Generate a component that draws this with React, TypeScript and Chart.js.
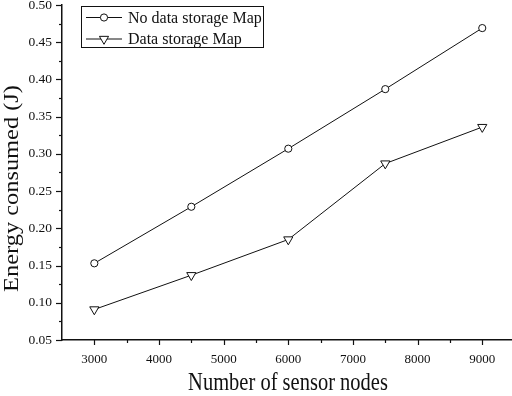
import React, { useEffect, useRef } from "react";
import { Chart, registerables } from "chart.js";

Chart.register(...registerables);

const nodeCounts = [3000, 4500, 6000, 7500, 9000];
const noStorageEnergy = [0.153, 0.229, 0.307, 0.387, 0.469];
const storageEnergy = [0.091, 0.137, 0.185, 0.287, 0.336];
const seriesLabels = ["No data storage Map", "Data storage Map"];
const xTickLabels = [3000, 4000, 5000, 6000, 7000, 8000, 9000];
const yTickLabels = [0.05, 0.1, 0.15, 0.2, 0.25, 0.3, 0.35, 0.4, 0.45, 0.5];
const xTitle = "Number of sensor nodes";
const yTitle = "Energy consumed (J)";
const xRange = [2500, 9460];
const yRange = [0.05, 0.5];

const FONT = "'Liberation Serif', 'Times New Roman', serif";
const INK = "#111";

function drawMarker(ctx: CanvasRenderingContext2D, style: string, x: number, y: number, r: number) {
  ctx.beginPath();
  if (style === "circle") {
    ctx.arc(x, y, r, 0, Math.PI * 2);
  } else {
    let rad = Math.PI;
    const step = (2 * Math.PI) / 3;
    ctx.moveTo(x + Math.sin(rad) * r, y - Math.cos(rad) * r);
    rad += step;
    ctx.lineTo(x + Math.sin(rad) * r, y - Math.cos(rad) * r);
    rad += step;
    ctx.lineTo(x + Math.sin(rad) * r, y - Math.cos(rad) * r);
    ctx.closePath();
  }
  ctx.fillStyle = "#fff";
  ctx.fill();
  ctx.stroke();
}

const tickMarksPlugin = {
  id: "tickMarks",
  afterDraw(chart: any) {
    const { ctx, chartArea } = chart;
    const xs = chart.scales.x;
    const ys = chart.scales.y;
    ctx.save();
    ctx.strokeStyle = INK;
    ctx.lineWidth = 1.2;
    for (let v = 2500; v <= 9500; v += 500) {
      const px = xs.getPixelForValue(v);
      if (px < chartArea.left + 1 || px > chartArea.right + 0.5) continue;
      const len = v % 1000 === 0 ? 5 : 3;
      ctx.beginPath();
      ctx.moveTo(Math.round(px) + 0.5, chartArea.bottom);
      ctx.lineTo(Math.round(px) + 0.5, chartArea.bottom + len);
      ctx.stroke();
    }
    for (let i = 0; i <= 18; i++) {
      const v = 0.05 + i * 0.025;
      const py = ys.getPixelForValue(v);
      const len = i % 2 === 0 ? 6 : 3;
      ctx.beginPath();
      ctx.moveTo(chartArea.left, Math.round(py) + 0.5);
      ctx.lineTo(chartArea.left - len, Math.round(py) + 0.5);
      ctx.stroke();
    }
    ctx.restore();
  },
};

const titlesPlugin = {
  id: "axisTitles",
  afterDraw(chart: any) {
    const { ctx } = chart;
    ctx.save();
    ctx.fillStyle = INK;
    ctx.font = `20.5px ${FONT}`;
    ctx.textAlign = "center";
    ctx.textBaseline = "alphabetic";
    ctx.save();
    ctx.translate(288, 390);
    ctx.scale(1, 1.19);
    ctx.fillText(xTitle, 0, 0);
    ctx.restore();
    ctx.save();
    ctx.translate(18, 188.5);
    ctx.rotate(-Math.PI / 2);
    ctx.scale(1.19, 1);
    ctx.fillText(yTitle, 0, 0);
    ctx.restore();
    ctx.restore();
  },
};

const legendPlugin = {
  id: "boxLegend",
  afterDraw(chart: any) {
    const { ctx } = chart;
    ctx.save();
    ctx.strokeStyle = INK;
    ctx.lineWidth = 1;
    ctx.strokeRect(81.5, 6.5, 182, 41);
    const rows = [17.5, 39];
    chart.data.datasets.forEach((ds: any, i: number) => {
      const y = rows[i];
      ctx.strokeStyle = INK;
      ctx.lineWidth = 1;
      ctx.beginPath();
      ctx.moveTo(86, y);
      ctx.lineTo(122, y);
      ctx.stroke();
      drawMarker(ctx, ds.pointStyle, 104, y, ds.pointRadius);
      ctx.fillStyle = INK;
      ctx.font = `16px ${FONT}`;
      ctx.textAlign = "left";
      ctx.textBaseline = "middle";
      ctx.fillText(ds.label, 128, y + 1);
    });
    ctx.restore();
  },
};

export default function App() {
  const ref = useRef<HTMLCanvasElement | null>(null);
  useEffect(() => {
    if (!ref.current) return;
    const chart = new Chart(ref.current, {
      type: "line",
      data: {
        datasets: [
          {
            label: seriesLabels[0],
            data: nodeCounts.map((x, i) => ({ x, y: noStorageEnergy[i] })),
            borderColor: INK,
            borderWidth: 1,
            pointStyle: "circle",
            pointRadius: 3.6,
            pointBorderWidth: 1,
            pointBackgroundColor: "#fff",
            pointBorderColor: INK,
            tension: 0,
          },
          {
            label: seriesLabels[1],
            data: nodeCounts.map((x, i) => ({ x, y: storageEnergy[i] })),
            borderColor: INK,
            borderWidth: 1,
            pointStyle: "triangle",
            rotation: 180,
            pointRadius: 5.3,
            pointBorderWidth: 1,
            pointBackgroundColor: "#fff",
            pointBorderColor: INK,
            tension: 0,
          } as any,
        ],
      },
      options: {
        responsive: false,
        animation: false,
        layout: { autoPadding: false, padding: { top: 5, right: 0, left: 0, bottom: 0 } },
        plugins: { legend: { display: false }, tooltip: { enabled: false } },
        scales: {
          x: {
            type: "linear",
            min: xRange[0],
            max: xRange[1],
            grid: { display: false, drawTicks: false },
            border: { display: true, color: INK, width: 1.5 },
            afterBuildTicks: (s: any) => {
              s.ticks = xTickLabels.map((v) => ({ value: v }));
            },
            ticks: {
              autoSkip: false,
              maxRotation: 0,
              padding: 12,
              color: INK,
              font: { family: FONT, size: 13 },
              callback: (v: any) => String(v),
            },
            title: { display: false },
            afterFit: (s: any) => {
              s.height = 56;
              s.paddingLeft = 0;
              s.paddingRight = 0;
            },
          },
          y: {
            type: "linear",
            min: yRange[0],
            max: yRange[1],
            grid: { display: false, drawTicks: false },
            border: { display: true, color: INK, width: 1.5 },
            afterBuildTicks: (s: any) => {
              s.ticks = yTickLabels.map((v) => ({ value: v }));
            },
            ticks: {
              autoSkip: false,
              padding: 10,
              color: INK,
              font: { family: FONT, size: 13.5 },
              callback: (v: any) => Number(v).toFixed(2),
            },
            title: { display: false },
            afterFit: (s: any) => {
              s.width = 62;
              s.paddingTop = 0;
              s.paddingBottom = 0;
            },
          },
        },
      } as any,
      plugins: [tickMarksPlugin, titlesPlugin, legendPlugin],
    });
    return () => chart.destroy();
  }, []);
  return (
    <canvas
      ref={ref}
      width={512}
      height={396}
      style={{ position: "fixed", left: 0, top: 0, display: "block", background: "#fff" }}
    />
  );
}
